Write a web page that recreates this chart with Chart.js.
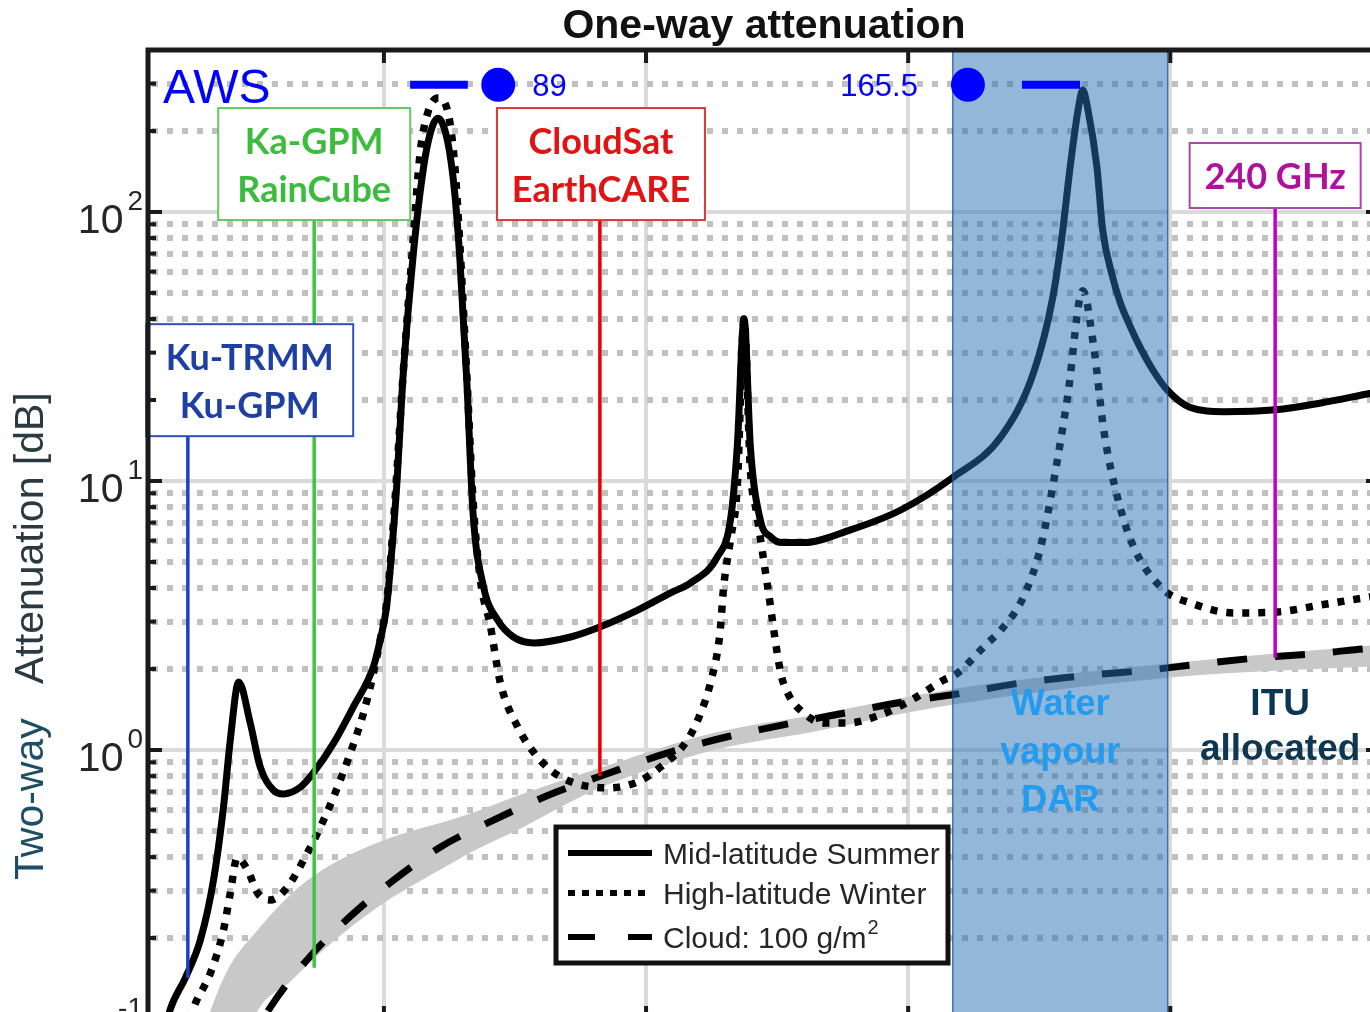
<!DOCTYPE html>
<html>
<head>
<meta charset="utf-8">
<title>One-way attenuation</title>
<script src="https://cdn.jsdelivr.net/npm/chart.js@4.4.1/dist/chart.umd.min.js"></script>
<style>
  html, body { margin: 0; padding: 0; overflow: hidden; background: #fff; }
  #wrap { position: relative; width: 1400px; height: 1060px; }
</style>
</head>
<body>
<div id="wrap"><canvas id="attChart"></canvas></div>
<script>
//DATA  (frequency in GHz, two-way attenuation in dB)
const mlsFreq = [5, 9.2, 12.1, 15, 17.5, 19.4, 20.7, 22.3, 24.5, 26.4, 28.9, 30.8, 34.1, 36.5, 40.4, 44.2, 48, 49.3, 50.5, 51.5,
  52.5, 53.6, 55.5, 56.9, 58.4, 60.3, 62.2, 63.5, 64.5, 65.8, 67, 69, 71.7, 74.7, 78.6, 85.6, 91.3, 98.4, 104.7, 108.5,
  113.6, 116.1, 117.4, 118.7, 119.9, 121.8, 123.8, 126, 130, 139, 148.6, 158.5, 167.7, 173.9, 177.6, 179.3, 180.9, 182.4, 183.3, 184.3,
  186, 187.1, 188.9, 190.4, 192.3, 194.2, 196.7, 199.4, 203.7, 210.2, 220.1, 228.7, 238.3, 240];
const mlsAtt = [0.05, 0.108, 0.142, 0.197, 0.329, 0.614, 1.09, 1.79, 1.26, 0.865, 0.71, 0.686, 0.728, 0.82, 1.06, 1.45, 2.04, 2.57, 3.4, 5.5,
  10, 23.7, 66.3, 118, 181, 223, 181, 118, 66.3, 23.7, 7.6, 4.04, 3.04, 2.63, 2.5, 2.63, 2.87, 3.31, 3.84, 4.18,
  5.22, 7.16, 13.4, 40, 13.4, 7.16, 6.19, 5.9, 5.9, 6.58, 7.8, 10.3, 14.6, 25.2, 48.3, 80, 147, 239, 284, 239,
  147, 85.7, 58.3, 46.3, 37.7, 31.5, 25.8, 21.8, 18.8, 18.1, 18.4, 19.5, 21.2, 21.5];

const hlwFreq = [5, 10, 13.6, 16.9, 19.4, 20.7, 22.0, 24.0, 25.9, 28.3, 31.6, 35.4, 37.9, 40.4, 43.6, 46.1, 48.0, 49.3, 50.5, 51.5,
  52.5, 53.6, 55.5, 56.9, 58.4, 60.3, 62.2, 63.5, 64.5, 65.8, 67.0, 68.4, 70.3, 72.2, 75.5, 79.3, 83.7, 92.7, 98.4, 102.8,
  107.9, 110.4, 112.3, 114.1, 114.8, 116.1, 117.4, 118.7, 119.9, 121.1, 123.2, 125.7, 127.0, 130.1, 133.9, 138.4, 144.7, 150.5, 156.8, 159.4,
  164.8, 167.7, 172.0, 175.3, 177.8, 180.4, 183.3, 185.4, 187.3, 189.9, 193.0, 198.8, 203.9, 212.1, 220.5, 228.7, 238.3, 240];
const hlwAtt = [0.02, 0.055, 0.108, 0.148, 0.214, 0.294, 0.397, 0.358, 0.294, 0.277, 0.31, 0.414, 0.518, 0.669, 0.975, 1.37, 1.93, 2.57, 3.5, 5.8,
  11, 24, 75, 165, 235, 265, 235, 150, 75, 25, 8.5, 4.29, 2.9, 1.78, 1.22, 0.942, 0.794, 0.723, 0.761, 0.865,
  1.09, 1.37, 1.78, 2.72, 4.04, 6.04, 9.51, 40, 11, 7.6, 4.04, 1.93, 1.63, 1.37, 1.26, 1.26, 1.35, 1.53, 1.82, 1.93,
  2.46, 2.79, 3.71, 5.69, 10.1, 20.5, 51, 31.5, 15.5, 8.73, 5.69, 3.93, 3.52, 3.23, 3.26, 3.46, 3.71, 3.75];

const cloudFreq = [5, 10, 20, 28.4, 36.5, 43.0, 51.2, 60.8, 69.8, 82.4, 91.9, 104.1, 115.5, 126.2, 137.7, 149.2, 158.1, 172.0, 184.8, 195.7,
  205.8, 216.7, 228.7, 238.3, 240];
const cloudAtt = [0.004, 0.015, 0.057, 0.111, 0.176, 0.235, 0.321, 0.436, 0.536, 0.692, 0.807, 0.975, 1.12, 1.24, 1.37, 1.51, 1.60, 1.78, 1.90, 1.98,
  2.09, 2.20, 2.29, 2.39, 2.40];

// grey spread of the cloud attenuation
const bandFreq = [5, 10, 15, 20, 26, 32, 37, 44, 50, 56, 63, 68, 76, 91, 113, 132, 158, 200, 240];
const bandHigh = [0.02, 0.045, 0.085, 0.15, 0.215, 0.288, 0.345, 0.412, 0.462, 0.505, 0.552, 0.595, 0.681, 0.855, 1.16, 1.35, 1.68, 2.10, 2.46];
const bandLow = [0.003, 0.012, 0.03, 0.055, 0.108, 0.137, 0.17, 0.222, 0.27, 0.318, 0.38, 0.43, 0.51, 0.72, 1.0, 1.17, 1.47, 1.86, 2.05];

const seriesNames = ['Mid-latitude Summer', 'High-latitude Winter', 'Cloud: 100 g/m²'];

// ticks
const xTicks = [50, 100, 150, 200];
const yMajor = [0.1, 1, 10, 100];
const yMinor = [0.2, 0.3, 0.4, 0.5, 0.6, 0.7, 0.8, 0.9, 2, 3, 4, 5, 6, 7, 8, 9, 20, 30, 40, 50, 60, 70, 80, 90, 200, 300];

// radars
const radarNames = [['Ku-TRMM', 'Ku-GPM'], ['Ka-GPM', 'RainCube'], ['CloudSat', 'EarthCARE'], ['240 GHz']];
const radarFreq = [12.6, 36.7, 91.2, 220.0];
const radarFloor = [0.142, 0.155, 0.8, 2.2];

// AWS channels
const awsChannels = ['89', '165.5'];
const awsDotFreq = [71.8, 161.4];
const awsBars = [[55.0, 66.0], [171.7, 182.8]];
const awsLevel = 297;

const darBand = [158.5, 199.5];

//LAYOUT
const SANS = '"Liberation Sans", Arial, sans-serif';
const CAL = 'Lato, "Open Sans", sans-serif';
const boxLayout = [
  { cx: 24.4, cy: 23.7, w: 207, h: 112 },
  { cx: 36.7, cy: 150.7, w: 192, h: 112 },
  { cx: 91.4, cy: 150.7, w: 208, h: 112 },
  { cx: 220.0, cy: 136.6, w: 171, h: 65 }
];
const radarStyle = [
  { text: '#1f3fa3', edge: '#3050b8', line: '#1d3fc4' },
  { text: '#3cbc3c', edge: '#62c862', line: '#41c441' },
  { text: '#e01414', edge: '#d83a3a', line: '#e60000' },
  { text: '#b0109c', edge: '#a848a8', line: '#c000c0' }
];

const pts = (xs, ys) => xs.map((v, i) => ({ x: v, y: ys[i] }));

function seg(ctx, x1, y1, x2, y2) {
  ctx.beginPath();
  ctx.moveTo(x1, y1);
  ctx.lineTo(x2, y2);
  ctx.stroke();
}

const datasets = [
  { label: seriesNames[0], data: pts(mlsFreq, mlsAtt), borderColor: '#000', borderWidth: 7, order: 0 },
  { label: seriesNames[1], data: pts(hlwFreq, hlwAtt), borderColor: '#000', borderWidth: 7.5, borderDash: [7, 9], order: 1 },
  { label: seriesNames[2], data: pts(cloudFreq, cloudAtt), borderColor: '#000', borderWidth: 7, borderDash: [30, 28], order: 2 },
  { label: 'band', data: pts(bandFreq, bandHigh), borderWidth: 0, fill: '+1', backgroundColor: '#c8c8c8', order: 3 },
  { label: 'band-low', data: pts(bandFreq, bandLow), borderWidth: 0, fill: false, order: 4 }
];
awsBars.forEach(b => datasets.push({
  label: 'aws', data: pts(b, [awsLevel, awsLevel]), borderColor: '#0000ff', borderWidth: 8,
  borderCapStyle: 'butt', order: -1
}));
datasets.push({
  label: 'aws-dots', data: pts(awsDotFreq, awsDotFreq.map(() => awsLevel)), showLine: false,
  pointRadius: 17, pointBackgroundColor: '#0000ff', pointBorderWidth: 0, order: -1
});

const decorations = {
  id: 'decorations',
  afterDatasetDraw(chart, args) {
    if (args.index !== 0) return;
    // water vapour DAR band goes over the curves, under the AWS marks
    const { ctx, chartArea: a, scales: { x } } = chart;
    const x0 = x.getPixelForValue(darBand[0]);
    const x1 = x.getPixelForValue(darBand[1]);
    ctx.save();
    ctx.fillStyle = 'rgba(40,112,180,0.5)';
    ctx.fillRect(x0, a.top, x1 - x0, a.bottom - a.top);
    ctx.strokeStyle = 'rgba(30,80,140,0.75)';
    ctx.lineWidth = 1.5;
    seg(ctx, x0, a.top, x0, a.bottom);
    seg(ctx, x1, a.top, x1, a.bottom);
    ctx.restore();
  },
  afterDraw(chart) {
    const { ctx, chartArea: a, scales: { x, y } } = chart;
    ctx.save();

    // radar frequency markers
    radarFreq.forEach((f, i) => {
      const b = boxLayout[i];
      const px = x.getPixelForValue(f);
      ctx.strokeStyle = radarStyle[i].line;
      ctx.lineWidth = 3.5;
      seg(ctx, px, y.getPixelForValue(b.cy) + b.h / 2, px, y.getPixelForValue(radarFloor[i]));
    });
    ctx.textAlign = 'center';
    ctx.textBaseline = 'middle';
    ctx.font = 'bold 36px ' + CAL;
    boxLayout.forEach((b, i) => {
      const cx = x.getPixelForValue(b.cx);
      const cy = y.getPixelForValue(b.cy);
      ctx.fillStyle = '#fff';
      ctx.fillRect(cx - b.w / 2, cy - b.h / 2, b.w, b.h);
      ctx.strokeStyle = radarStyle[i].edge;
      ctx.lineWidth = 2;
      ctx.strokeRect(cx - b.w / 2, cy - b.h / 2, b.w, b.h);
      ctx.fillStyle = radarStyle[i].text;
      const n = radarNames[i];
      n.forEach((t, k) => ctx.fillText(t, cx, cy + (k - (n.length - 1) / 2) * 48 + 2));
    });

    // band labels
    const one = y.getPixelForValue(1);
    const dx = (x.getPixelForValue(darBand[0]) + x.getPixelForValue(darBand[1])) / 2;
    ctx.font = 'bold 36px ' + SANS;
    ctx.fillStyle = '#239bef';
    ['Water', 'vapour', 'DAR'].forEach((t, k) => ctx.fillText(t, dx, one - 45 + k * 48));
    ctx.font = 'bold 37px ' + SANS;
    ctx.fillStyle = '#0d3652';
    const ix = x.getPixelForValue(radarFreq[3]) + 5;
    ctx.fillText('ITU', ix, one - 45);
    ctx.fillText('allocated', ix, one);

    // AWS
    const ay = y.getPixelForValue(awsLevel);
    ctx.fillStyle = '#0000ff';
    ctx.textBaseline = 'alphabetic';
    ctx.textAlign = 'left';
    ctx.font = '48px ' + SANS;
    ctx.fillText('AWS', a.left + 15, ay + 18);
    ctx.font = '31px ' + SANS;
    ctx.fillText(awsChannels[0], x.getPixelForValue(awsDotFreq[0]) + 34, ay + 11);
    ctx.textAlign = 'right';
    ctx.fillText(awsChannels[1], x.getPixelForValue(awsDotFreq[1]) - 50, ay + 11);

    // legend
    const L = { x: 556, y: 827, w: 392, h: 136 };
    ctx.fillStyle = '#fff';
    ctx.fillRect(L.x, L.y, L.w, L.h);
    ctx.strokeStyle = '#111';
    ctx.lineWidth = 5;
    ctx.strokeRect(L.x, L.y, L.w, L.h);
    const rows = [853, 893, 937];
    ctx.textAlign = 'left';
    for (let i = 0; i < 3; i++) {
      const ds = chart.data.datasets[i];
      ctx.strokeStyle = '#000';
      ctx.lineWidth = 6;
      ctx.setLineDash(i === 2 ? [27, 33] : (i === 1 ? [7, 7] : []));
      seg(ctx, L.x + 12, rows[i], L.x + 96, rows[i]);
      ctx.setLineDash([]);
      ctx.fillStyle = '#262626';
      ctx.font = '30px ' + SANS;
      let lab = ds.label;
      const sup = lab.endsWith('²');
      if (sup) lab = lab.slice(0, -1);
      ctx.fillText(lab, L.x + 107, rows[i] + 11);
      if (sup) {
        const w = ctx.measureText(lab).width;
        ctx.font = '20px ' + SANS;
        ctx.fillText('2', L.x + 108 + w, rows[i] - 3);
      }
    }

    // axes frame and inward ticks
    ctx.strokeStyle = '#1a1a1a';
    ctx.lineWidth = 4;
    y.ticks.forEach(t => {
      const py = y.getPixelForValue(t.value);
      const len = t.major ? 14 : 8;
      seg(ctx, a.left, py, a.left + len, py);
      seg(ctx, a.right, py, a.right - len, py);
    });
    x.ticks.forEach(t => {
      const px = x.getPixelForValue(t.value);
      seg(ctx, px, a.top, px, a.top + 13);
      seg(ctx, px, a.bottom, px, a.bottom - 13);
    });
    ctx.lineWidth = 5;
    ctx.strokeRect(a.left, a.top, a.right - a.left, a.bottom - a.top);

    // y tick labels 10^n
    ctx.fillStyle = '#262626';
    ctx.textAlign = 'right';
    y.ticks.filter(t => t.major).forEach(t => {
      const py = y.getPixelForValue(t.value);
      const e = String(Math.round(Math.log10(t.value)));
      ctx.font = '28px ' + SANS;
      const sw = ctx.measureText(e).width;
      ctx.fillText(e, a.left - 5, py - 2);
      ctx.font = '41px ' + SANS;
      ctx.fillText('10', a.left - 9 - sw, py + 21);
    });

    // title
    ctx.textAlign = 'center';
    ctx.fillStyle = '#111';
    ctx.font = 'bold 41px ' + SANS;
    ctx.fillText('One-way attenuation', (a.left + a.right) / 2, 38);

    // y axis title
    ctx.font = '41px ' + SANS;
    ctx.textAlign = 'left';
    ctx.save();
    ctx.translate(43, 880);
    ctx.rotate(-Math.PI / 2);
    ctx.fillStyle = '#1d4e63';
    ctx.fillText('Two-way', 0, 0);
    ctx.restore();
    ctx.save();
    ctx.translate(43, 684);
    ctx.rotate(-Math.PI / 2);
    ctx.fillStyle = '#2b3a40';
    ctx.fillText('Attenuation [dB]', 0, 0);
    ctx.restore();

    ctx.restore();
  }
};

const isMajor = c => c.tick && c.tick.major;

new Chart(document.getElementById('attChart'), {
  type: 'line',
  data: { datasets },
  options: {
    responsive: true,
    maintainAspectRatio: false,
    animation: false,
    events: [],
    layout: { padding: { top: 50, right: 20, left: 0, bottom: 0 } },
    elements: {
      point: { radius: 0 },
      line: { cubicInterpolationMode: 'monotone', borderCapStyle: 'butt' }
    },
    plugins: {
      legend: { display: false },
      tooltip: { enabled: false },
      title: { display: false }
    },
    scales: {
      x: {
        type: 'linear',
        min: 5,
        max: 240,
        afterBuildTicks: s => { s.ticks = xTicks.map(v => ({ value: v, major: true })); },
        afterFit: s => { s.height = 41; },
        ticks: { display: false },
        grid: { color: '#dadada', lineWidth: 4, drawTicks: false },
        border: { display: false }
      },
      y: {
        type: 'logarithmic',
        min: 0.1,
        max: 400,
        afterBuildTicks: s => {
          s.ticks = yMajor.concat(yMinor).sort((p, q) => p - q)
            .map(v => ({ value: v, major: yMajor.includes(v) }));
        },
        afterFit: s => { s.width = 148; },
        ticks: { display: false, autoSkip: false },
        grid: {
          color: c => isMajor(c) ? '#dadada' : '#c0c0c0',
          lineWidth: c => isMajor(c) ? 4 : 6,
          drawTicks: false
        },
        border: {
          display: false,
          dash: c => isMajor(c) ? [] : [6, 9],
          dashOffset: 11
        }
      }
    }
  },
  plugins: [decorations]
});
</script>
</body>
</html>
